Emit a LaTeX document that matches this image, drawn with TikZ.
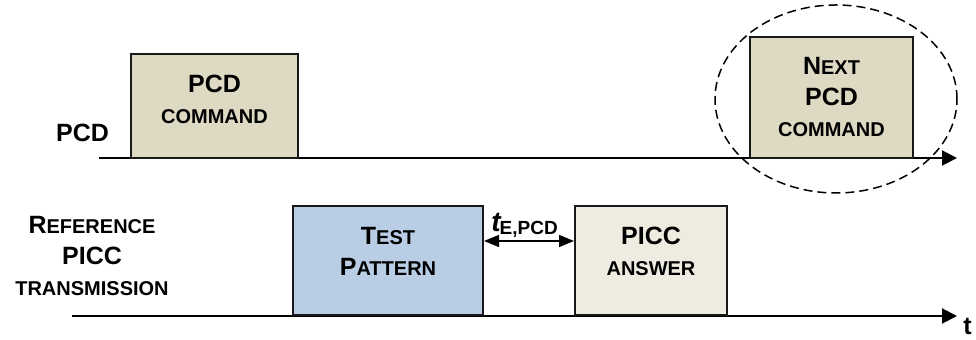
\documentclass[tikz,border=0pt]{standalone}
\usepackage{fontspec}
\setmainfont{Liberation Sans}
\usetikzlibrary{arrows.meta,shapes.geometric}
\definecolor{cmdtan}{HTML}{DDD9C3}
\definecolor{testblue}{HTML}{B9CDE5}
\definecolor{answergrey}{HTML}{EEECE1}
\newcommand{\capfont}{\fontsize{12.5}{15.5}\selectfont}
\newcommand{\lowfont}{\fontsize{10}{15.5}\selectfont}
\begin{document}
\begin{tikzpicture}[x=0.5pt,y=-0.5pt,
		frame/.style={draw=black!90,line width=1pt,align=center,font=\bfseries\lowfont,inner sep=0pt},
		tag/.style={align=center,font=\bfseries\lowfont,inner sep=0pt},
		axis/.style={line width=1pt,-{Triangle[length=7.5pt,width=7.5pt]}},
		gap/.style={line width=0.75pt,{Triangle[length=7.5pt,width=6pt]}-{Triangle[length=7.5pt,width=6pt]}}]
	\useasboundingbox (0,0) rectangle (976,340);
	\coordinate (pcdstart) at (99,158);
	\coordinate (pcdend) at (957,158);
	\coordinate (picstart) at (72,316);
	\coordinate (picend) at (957,316);
	\draw[axis] (pcdstart) -- (pcdend);
	\draw[axis] (picstart) -- (picend);
	\node[tag] (pcd) at (82.5,133) {\capfont PCD};
	\node[tag] (ref) at (92,256) {\capfont R\lowfont EFERENCE\\\capfont PICC\\\lowfont TRANSMISSION};
	\node[frame,fill=cmdtan,minimum width=83.5pt,minimum height=52pt,text depth=7pt] (cmd) at (214.5,106) {\capfont PCD\\\lowfont COMMAND};
	\node[frame,fill=cmdtan,minimum width=81.5pt,minimum height=60.5pt] (next) at (831.5,97.5) {\capfont N\lowfont EXT\\\capfont PCD\\\lowfont COMMAND};
	\node[frame,fill=testblue,minimum width=95pt,minimum height=54.5pt,text depth=9.5pt] (test) at (388,260.5) {\capfont T\lowfont EST\\\capfont P\lowfont ATTERN};
	\node[frame,fill=answergrey,minimum width=76pt,minimum height=54.5pt,text depth=9.5pt] (answer) at (651,260.5) {\capfont PICC\\\lowfont ANSWER};
	\draw[gap] ([yshift=9.75pt]test.east) -- ([yshift=9.75pt]answer.west);
	\node[anchor=base west,inner sep=0pt] (te) at (491,232) {\fontsize{14}{14}\selectfont\bfseries\itshape t\kern-0.5pt\raisebox{-1.5pt}{\fontsize{9.5}{9.5}\selectfont\upshape E,PCD}};
	\node[draw,dashed,ellipse,line width=0.75pt,dash pattern=on 4.5pt off 2.5pt,minimum width=121pt,minimum height=94pt] (ring) at (836,99) {};
	\node[tag,anchor=north west] (tlabel) at (963,318) {\capfont t};
\end{tikzpicture}
\end{document}
